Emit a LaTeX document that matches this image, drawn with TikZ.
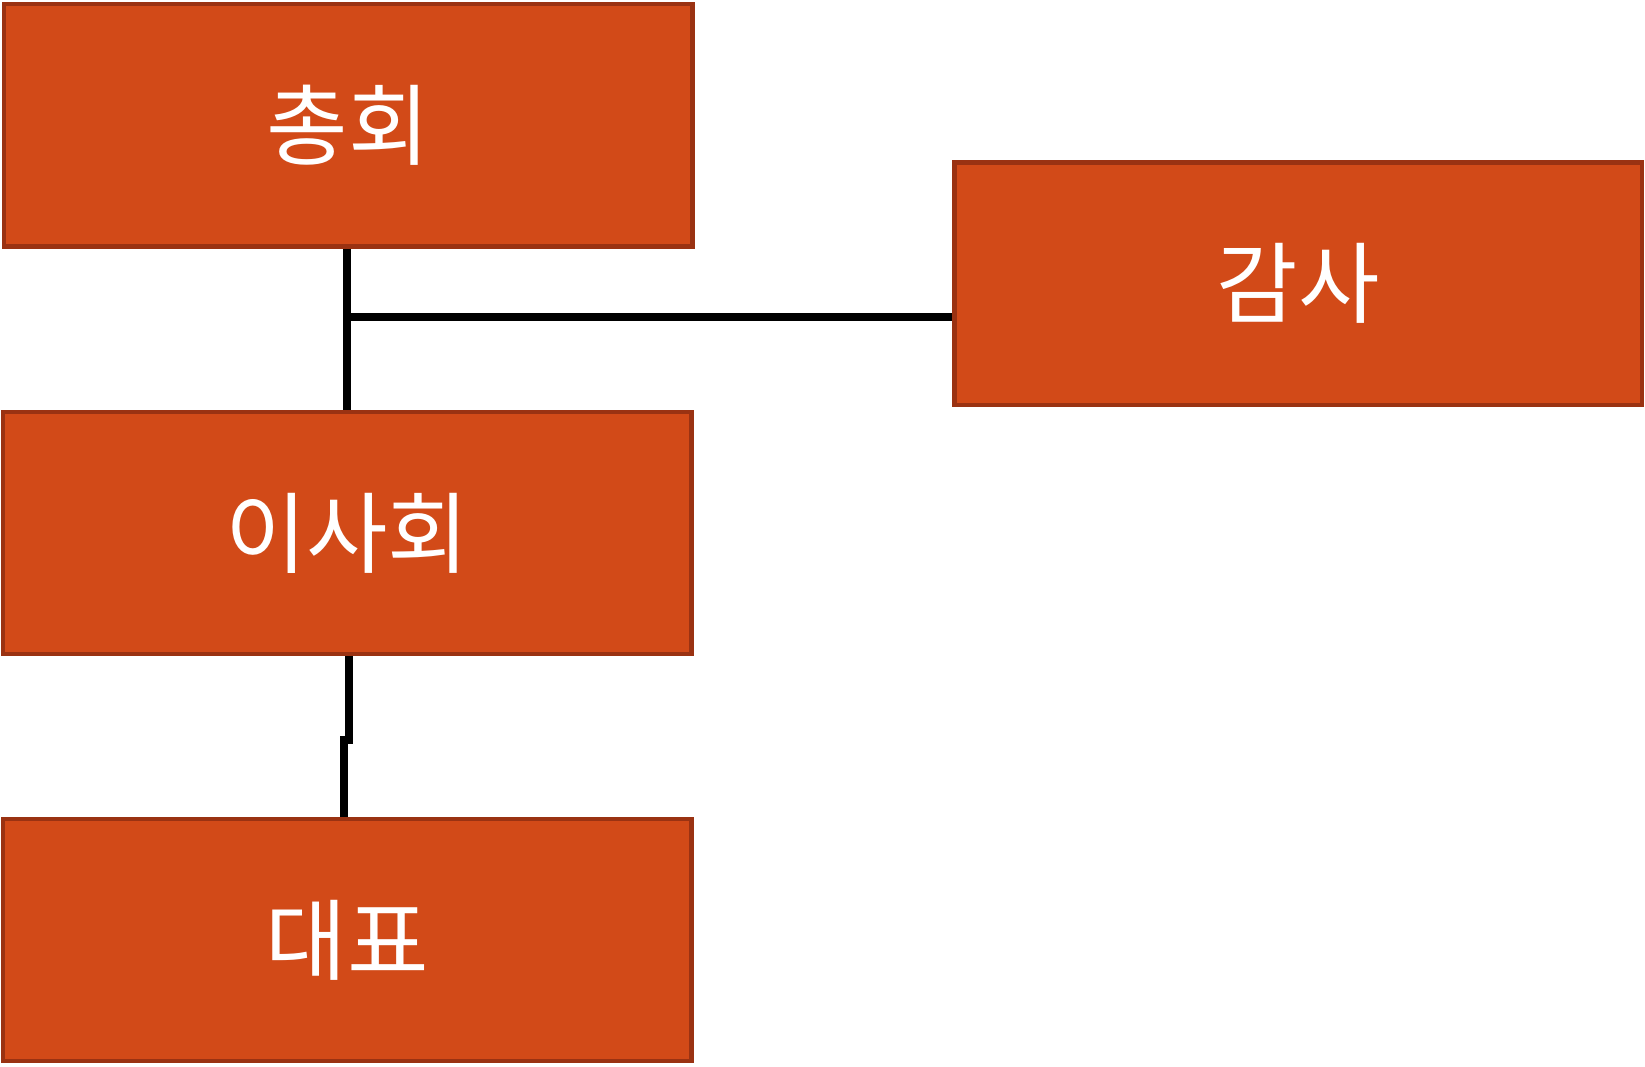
\documentclass[tikz,border=0pt]{standalone}
\usepackage{fontspec}
\newfontfamily\kr{Noto Sans CJK KR}
\definecolor{boxfill}{HTML}{D24A18}
\definecolor{boxline}{HTML}{9A3212}
\begin{document}
\begin{tikzpicture}[x=0.01cm,y=-0.01cm,
  orgbox/.style={draw=boxline,line width=1.2pt,fill=boxfill,minimum width=6.56cm,minimum height=2.31cm,inner sep=0pt,text=white,font=\kr\fontsize{24}{28}\selectfont},
  conn/.style={line width=2.2pt,black}]
\useasboundingbox (0,0) rectangle (1568,1017);
\node[orgbox] (a) at (332,119.5) {총회};
\node[orgbox,minimum width=6.55cm] (b) at (1237.5,270.5) {감사};
\node[orgbox] (c) at (331,508) {이사회};
\node[orgbox] (d) at (331,896) {대표};
\coordinate (j) at (331,302);
\coordinate (k1) at (333,705);
\coordinate (k2) at (328,705);
\draw[conn] (a.south -| j) -- (j) -- (c.north -| j);
\draw[conn] (j) -- (b.west |- j);
\draw[conn] (c.south -| k1) -- (k1) -- (k2) -- (d.north -| k2);
\end{tikzpicture}
\end{document}
